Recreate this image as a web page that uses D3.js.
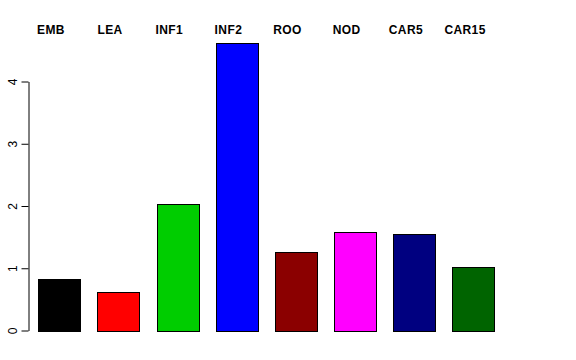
<!DOCTYPE html>
<html>
<head>
<meta charset="utf-8">
<script src="https://cdn.jsdelivr.net/npm/d3@7"></script>
<style>
  html, body { margin: 0; padding: 0; background: #fff; }
  svg { display: block; }
</style>
</head>
<body>
<svg id="chart" width="576" height="360"></svg>
<script>
const categories = ["EMB", "LEA", "INF1", "INF2", "ROO", "NOD", "CAR5", "CAR15"];
const values = [0.82, 0.62, 2.03, 4.62, 1.26, 1.58, 1.55, 1.02];
const colors = ["#000000", "#FF0000", "#00CD00", "#0000FF", "#8B0000", "#FF00FF", "#000080", "#006400"];
const yTicks = [0, 1, 2, 3, 4];

const svg = d3.select("#chart");

const x = d3.scaleBand()
  .domain(categories)
  .range([38.3, 494.7])
  .paddingInner(0.2857)
  .paddingOuter(0);

const y = d3.scaleLinear().domain([0, 4]).range([330.5, 81.5]);

// bars
svg.append("g").selectAll("rect")
  .data(categories)
  .join("rect")
  .attr("x", d => Math.round(x(d)) + 0.5)
  .attr("y", (d, i) => Math.round(y(values[i])) + 0.5)
  .attr("width", Math.round(x.bandwidth()))
  .attr("height", (d, i) => Math.round(y(0)) - Math.round(y(values[i])))
  .attr("fill", (d, i) => colors[i])
  .attr("stroke", "#000")
  .attr("stroke-width", 1);

// y axis
const yAxis = d3.axisLeft(y).tickValues(yTicks).tickFormat(d3.format("d")).tickSize(7).tickSizeOuter(0);
const gy = svg.append("g").attr("transform", "translate(28.5,0)").call(yAxis);
gy.select(".domain").attr("stroke", "#000").attr("stroke-width", 1);
gy.selectAll(".tick line").attr("stroke", "#000");
gy.selectAll(".tick text")
  .attr("font-family", "Liberation Sans, Arial, Helvetica, sans-serif")
  .attr("font-size", 12)
  .attr("fill", "#000")
  .attr("text-anchor", "middle")
  .attr("dy", null)
  .attr("x", null)
  .attr("transform", "translate(-16,0) rotate(-90)")
  .attr("dominant-baseline", "central");

// top labels
svg.append("g").selectAll("text")
  .data(categories)
  .join("text")
  .attr("x", d => x(d) + x.bandwidth() / 2 - 8.5)
  .attr("y", 34)
  .attr("text-anchor", "middle")
  .attr("font-family", "Liberation Sans, Arial, Helvetica, sans-serif")
  .attr("font-weight", "bold")
  .attr("font-size", 12)
  .attr("letter-spacing", 0.4)
  .attr("fill", "#000")
  .text(d => d);
</script>
</body>
</html>
